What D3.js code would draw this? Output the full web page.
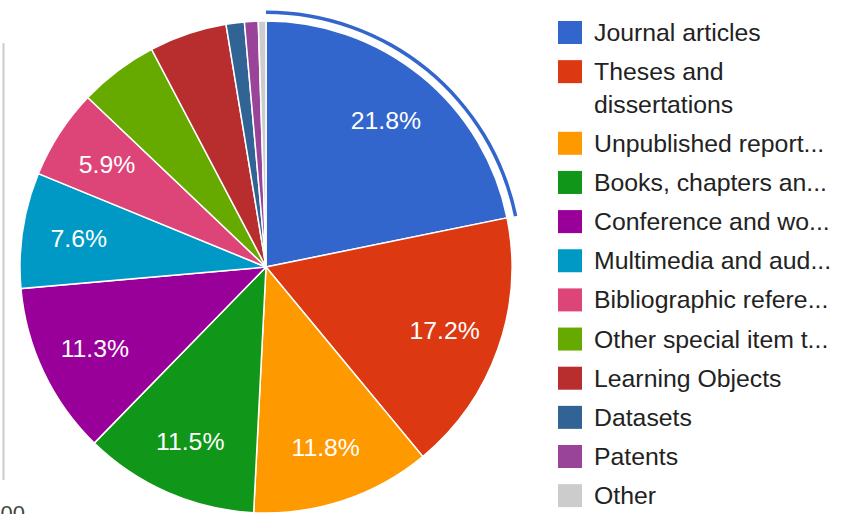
<!DOCTYPE html>
<html>
<head>
<meta charset="utf-8">
<script src="https://cdn.jsdelivr.net/npm/d3@7"></script>
<style>
  html, body { margin: 0; padding: 0; background: #fff; }
  svg { display: block; }
  text { font-family: "Liberation Sans", Arial, sans-serif; }
</style>
</head>
<body>
<svg id="chart" width="844" height="514"></svg>
<script>
// ---- data ----
const categories = [
  "Journal articles",
  "Theses and dissertations",
  "Unpublished report...",
  "Books, chapters an...",
  "Conference and wo...",
  "Multimedia and aud...",
  "Bibliographic refere...",
  "Other special item t...",
  "Learning Objects",
  "Datasets",
  "Patents",
  "Other"
];
const legendLines = [
  ["Journal articles"],
  ["Theses and", "dissertations"],
  ["Unpublished report..."],
  ["Books, chapters an..."],
  ["Conference and wo..."],
  ["Multimedia and aud..."],
  ["Bibliographic refere..."],
  ["Other special item t..."],
  ["Learning Objects"],
  ["Datasets"],
  ["Patents"],
  ["Other"]
];
const percentages = [21.8, 17.2, 11.8, 11.5, 11.3, 7.6, 5.9, 5.2, 5.1, 1.2, 0.9, 0.5];
const colors = ["#3366cc", "#dc3912", "#ff9900", "#109618", "#990099", "#0099c6",
                "#dd4477", "#66aa00", "#b82e2e", "#316395", "#994499", "#cccccc"];
const highlighted = 0;        // slice with the hover ring
const labelMinPercent = 5.5;  // slices smaller than this carry no text
const axisStubLabel = "500";

// ---- layout ----
const svg = d3.select("#chart");
const cx = 266, cy = 267, r = 246;
const fontSize = 24.8;

const data = categories.map((c, i) => ({ name: c, value: percentages[i], color: colors[i], lines: legendLines[i] }));

const pie = d3.pie().value(d => d.value).sort(null);
const arcs = pie(data);
const arc = d3.arc().innerRadius(0).outerRadius(r);
const labelArc = d3.arc().innerRadius(r * 0.77).outerRadius(r * 0.77);
const ringArc = d3.arc().innerRadius(r + 7).outerRadius(r + 10.5);

// stub of a neighbouring chart at the left edge
svg.append("line")
  .attr("x1", 3.5).attr("x2", 3.5).attr("y1", 43).attr("y2", 480)
  .attr("stroke", "#cccccc").attr("stroke-width", 2);
svg.append("text")
  .attr("x", 25).attr("y", 521)
  .attr("text-anchor", "end")
  .attr("font-size", 22)
  .attr("fill", "#444444")
  .text(axisStubLabel);

const g = svg.append("g").attr("transform", `translate(${cx},${cy})`);

g.selectAll("path.slice")
  .data(arcs)
  .join("path")
  .attr("class", "slice")
  .attr("d", arc)
  .attr("fill", d => d.data.color)
  .attr("stroke", "#ffffff")
  .attr("stroke-width", 1.5);

g.append("path")
  .attr("d", ringArc(arcs[highlighted]))
  .attr("fill", colors[highlighted]);

g.selectAll("text.pct")
  .data(arcs.filter(d => d.data.value >= labelMinPercent))
  .join("text")
  .attr("class", "pct")
  .attr("transform", d => `translate(${labelArc.centroid(d)})`)
  .attr("text-anchor", "middle")
  .attr("dy", "0.36em")
  .attr("font-size", fontSize)
  .attr("fill", "#ffffff")
  .text(d => d.data.value.toFixed(1) + "%");

// ---- legend ----
const legX = 558, txtX = 594;
const itemGap = 39.15, lineGap = 32.5;
let y = 21;
data.forEach(d => {
  svg.append("rect")
    .attr("x", legX).attr("y", y)
    .attr("width", 24).attr("height", 23)
    .attr("fill", d.color);
  d.lines.forEach((ln, k) => {
    svg.append("text")
      .attr("x", txtX).attr("y", y + 20 + k * lineGap)
      .attr("font-size", fontSize)
      .attr("fill", "#222222")
      .text(ln);
  });
  y += itemGap + (d.lines.length - 1) * lineGap;
});
</script>
</body>
</html>
